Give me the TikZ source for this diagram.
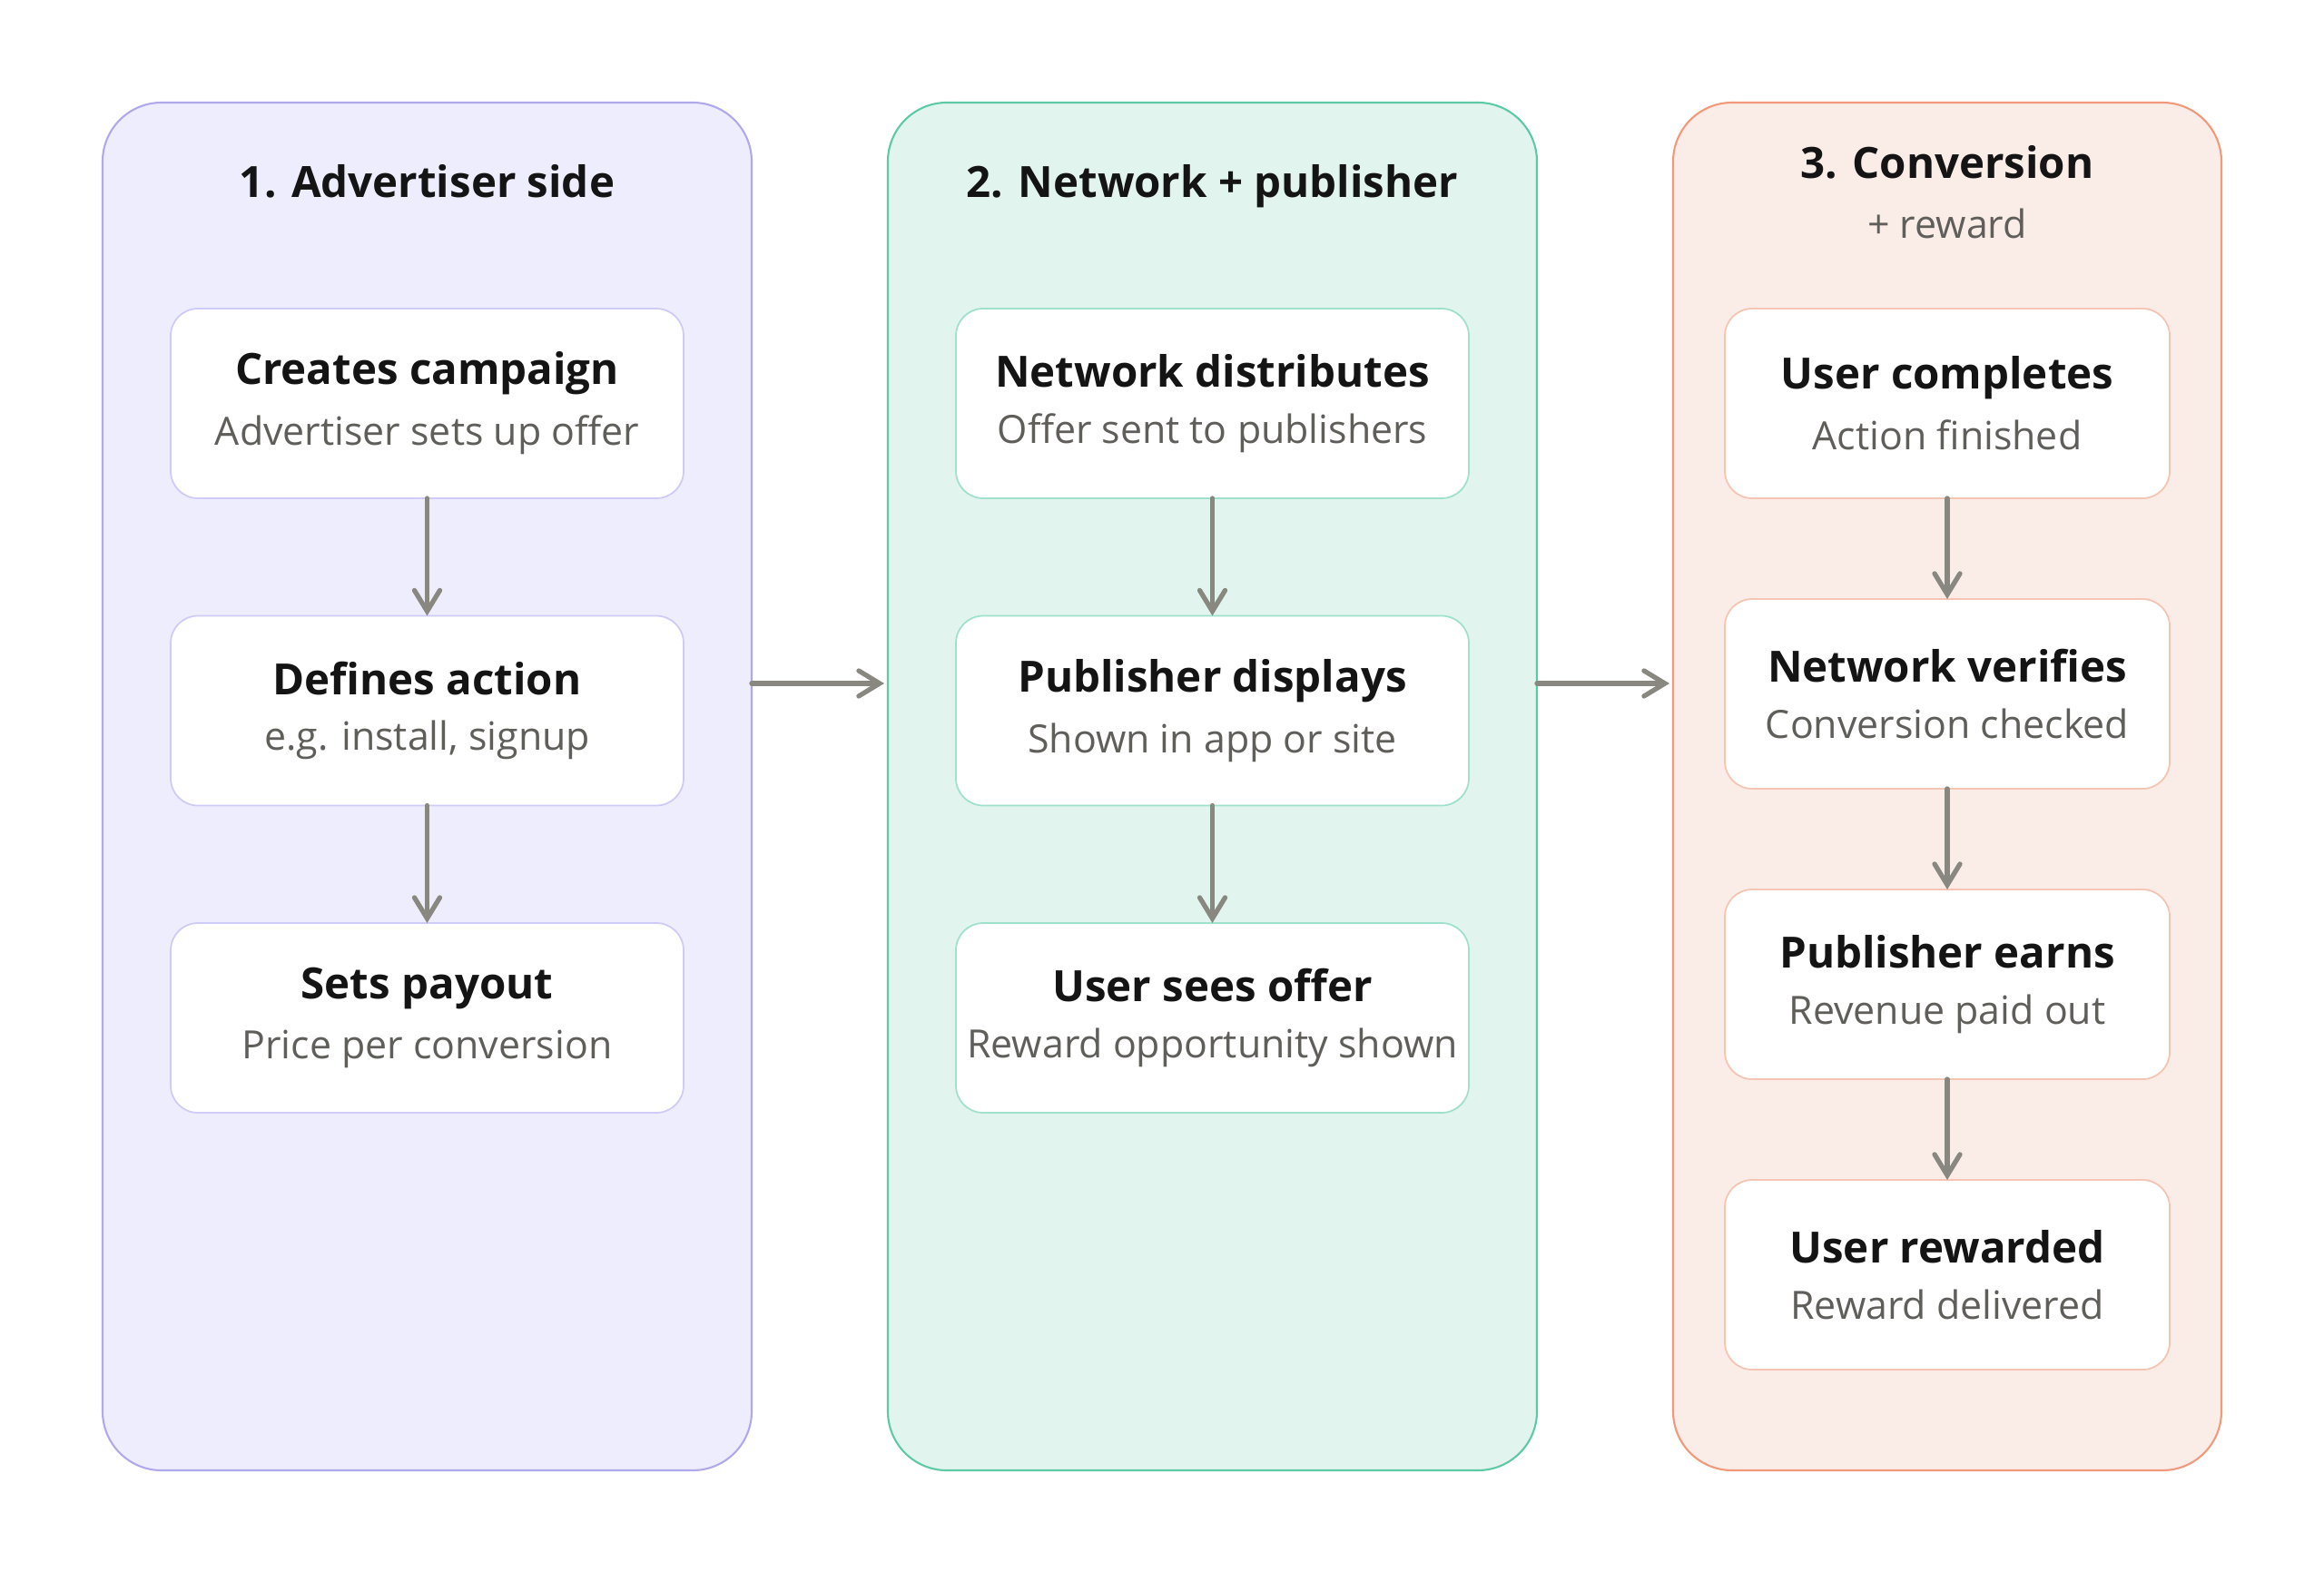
\documentclass[tikz,border=0pt]{standalone}
\usepackage{fontspec}
\setmainfont{Open Sans}
\usepackage{xcolor}
\usepackage{tikz}
\usetikzlibrary{positioning, arrows.meta, calc}
\definecolor{advfill}{HTML}{EEEDFE}
\definecolor{advline}{HTML}{AFA9EC}
\definecolor{advbox}{HTML}{CECBF6}
\definecolor{netfill}{HTML}{E1F5EE}
\definecolor{netline}{HTML}{5DCAA5}
\definecolor{netbox}{HTML}{9FE1CB}
\definecolor{convfill}{HTML}{FAECE7}
\definecolor{convline}{HTML}{F0997B}
\definecolor{convbox}{HTML}{F5C4B3}
\definecolor{flowgray}{HTML}{888780}
\definecolor{subgray}{HTML}{5F5E5A}
\definecolor{inkblack}{HTML}{141414}
\newcommand{\steptext}[2]{{\fontsize{13.5}{16}\selectfont\bfseries\color{inkblack}#1}\\[5.5pt]{\fontsize{12.2}{14}\selectfont\color{subgray}#2}}

\begin{document}
\begin{tikzpicture}[
  x=1cm, y=1cm,
  panel/.style={rectangle, draw, line width=0.6pt, rounded corners=6.5mm,
                minimum height=150.7mm, inner sep=0pt, outer sep=0pt},
  stepbox/.style={rectangle, draw, fill=white, line width=0.5pt, rounded corners=3mm,
                  minimum height=20.9mm, inner sep=0pt, outer sep=0pt, align=center},
  heading/.style={anchor=base, font=\fontsize{13.5}{16}\selectfont\bfseries, text=inkblack},
  arrow/.style={-{Straight Barb[length=2.3mm, width=2.8mm, line cap=round]},
                line width=1.5pt, line cap=round, draw=flowgray},
]
\useasboundingbox (0,0) rectangle (25.6,-17.32);

% Three columns
\node[panel, fill=advfill,  draw=advline,  minimum width=71.5mm] at (4.705,-8.665)  (adv)  {};
\node[panel, fill=netfill,  draw=netline,  minimum width=71.5mm] at (13.355,-8.665) (net)  {};
\node[panel, fill=convfill, draw=convline, minimum width=60.4mm] at (21.45,-8.665)  (conv) {};

% Column headings
\node[heading] at (4.705,-2.18)  (adv_title)  {1. Advertiser side};
\node[heading] at (13.355,-2.18) (net_title)  {2. Network + publisher};
\node[heading] at (21.45,-1.97)  (conv_title) {3. Conversion};
\node[anchor=base, font=\fontsize{12.2}{14}\selectfont, text=subgray] at (21.45,-2.63) (conv_sub) {+ reward};

% Left column (advertiser)
\node[stepbox, draw=advbox, minimum width=56.5mm] at (4.705,-4.445)  (campaign) {\steptext{Creates campaign}{Advertiser sets up offer}};
\node[stepbox, draw=advbox, minimum width=56.5mm] at (4.705,-7.83)   (action)   {\steptext{Defines action}{e.g. install, signup}};
\node[stepbox, draw=advbox, minimum width=56.5mm] at (4.705,-11.215) (payout)   {\steptext{Sets payout}{Price per conversion}};

% Middle column (network + publisher)
\node[stepbox, draw=netbox, minimum width=56.5mm] at (13.355,-4.445)  (distrib)  {\steptext{Network distributes}{Offer sent to publishers}};
\node[stepbox, draw=netbox, minimum width=56.5mm] at (13.355,-7.83)   (display)  {\steptext{Publisher displays}{Shown in app or site}};
\node[stepbox, draw=netbox, minimum width=56.5mm] at (13.355,-11.215) (sees)     {\steptext{User sees offer}{Reward opportunity shown}};

% Right column (conversion + reward)
\node[stepbox, draw=convbox, minimum width=49mm] at (21.45,-4.445)  (completes) {\steptext{User completes}{Action finished}};
\node[stepbox, draw=convbox, minimum width=49mm] at (21.45,-7.645)  (verifies)  {\steptext{Network verifies}{Conversion checked}};
\node[stepbox, draw=convbox, minimum width=49mm] at (21.45,-10.845) (earns)     {\steptext{Publisher earns}{Revenue paid out}};
\node[stepbox, draw=convbox, minimum width=49mm] at (21.45,-14.045) (rewarded)  {\steptext{User rewarded}{Reward delivered}};

% Arrows inside columns
\draw[arrow] (campaign)  -- (action);
\draw[arrow] (action)    -- (payout);
\draw[arrow] (distrib)   -- (display);
\draw[arrow] (display)   -- (sees);
\draw[arrow] (completes) -- (verifies);
\draw[arrow] (verifies)  -- (earns);
\draw[arrow] (earns)     -- (rewarded);

% Arrows between columns
\draw[arrow, shorten >=0.4mm] ([yshift=11.35mm]adv.east) -- ([yshift=11.35mm]net.west);
\draw[arrow, shorten >=0.4mm] ([yshift=11.35mm]net.east) -- ([yshift=11.35mm]conv.west);
\end{tikzpicture}
\end{document}
